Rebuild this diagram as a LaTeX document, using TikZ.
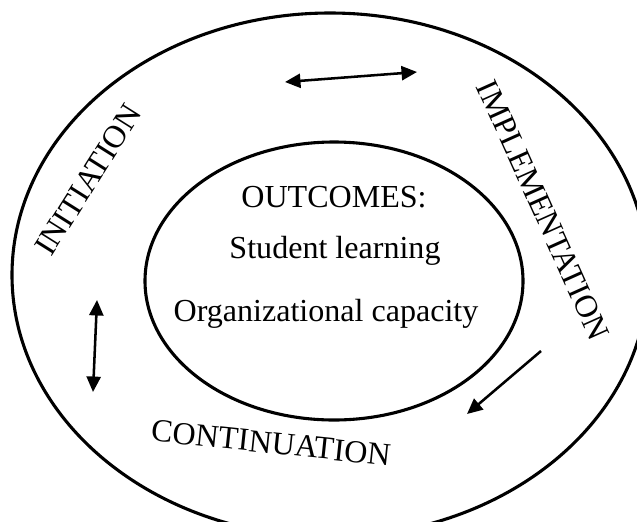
\documentclass[tikz,border=0pt]{standalone}
\usepackage{fontspec}
\setmainfont{Liberation Serif}
\usetikzlibrary{arrows.meta,positioning}

\tikzset{
  ring/.style={line width=2.2pt},
  stage/.style={font=\fontsize{22.8}{27}\selectfont, inner sep=0pt},
  outcome/.style={font=\fontsize{22.8}{27}\selectfont, inner sep=0pt, anchor=base},
  flow/.style={line width=1.8pt},
}

\begin{document}
\begin{tikzpicture}[x=0.025cm,y=-0.025cm,>={Triangle[length=11pt,width=10pt]}]
  \useasboundingbox (0,0) rectangle (637,521);

  %-------------------- rings --------------------
  \draw[ring] (330,275) ellipse [x radius=318, y radius=262];
  \draw[ring] (334,281) ellipse [x radius=189, y radius=139];

  %-------------------- outcomes --------------------
  \node[outcome] (goal)     at (334,207) {OUTCOMES:};
  \node[outcome] (learning) at (335,258) {Student learning};
  \node[outcome] (capacity) at (326,321) {Organizational capacity};

  %-------------------- stages --------------------
  \node[stage, rotate=57.8]  (init) at (88,180)  {INITIATION};
  \node[stage, rotate=-65.8] (impl) at (543,210) {IMPLEMENTATION};
  \node[stage, rotate=-6]    (cont) at (271,443) {CONTINUATION};

  % arrow ends
  \coordinate (topL) at (285,82);
  \coordinate (topR) at (417,72);
  \coordinate (leftT) at (97,300);
  \coordinate (leftB) at (93,392);
  \coordinate (rightS) at (541,351);
  \coordinate (rightE) at (467,414);

  \draw[flow,<->] (topL) -- (topR);
  \draw[flow,<->] (leftT) -- (leftB);
  \draw[flow,->] (rightS) -- (rightE);

\end{tikzpicture}
\end{document}
